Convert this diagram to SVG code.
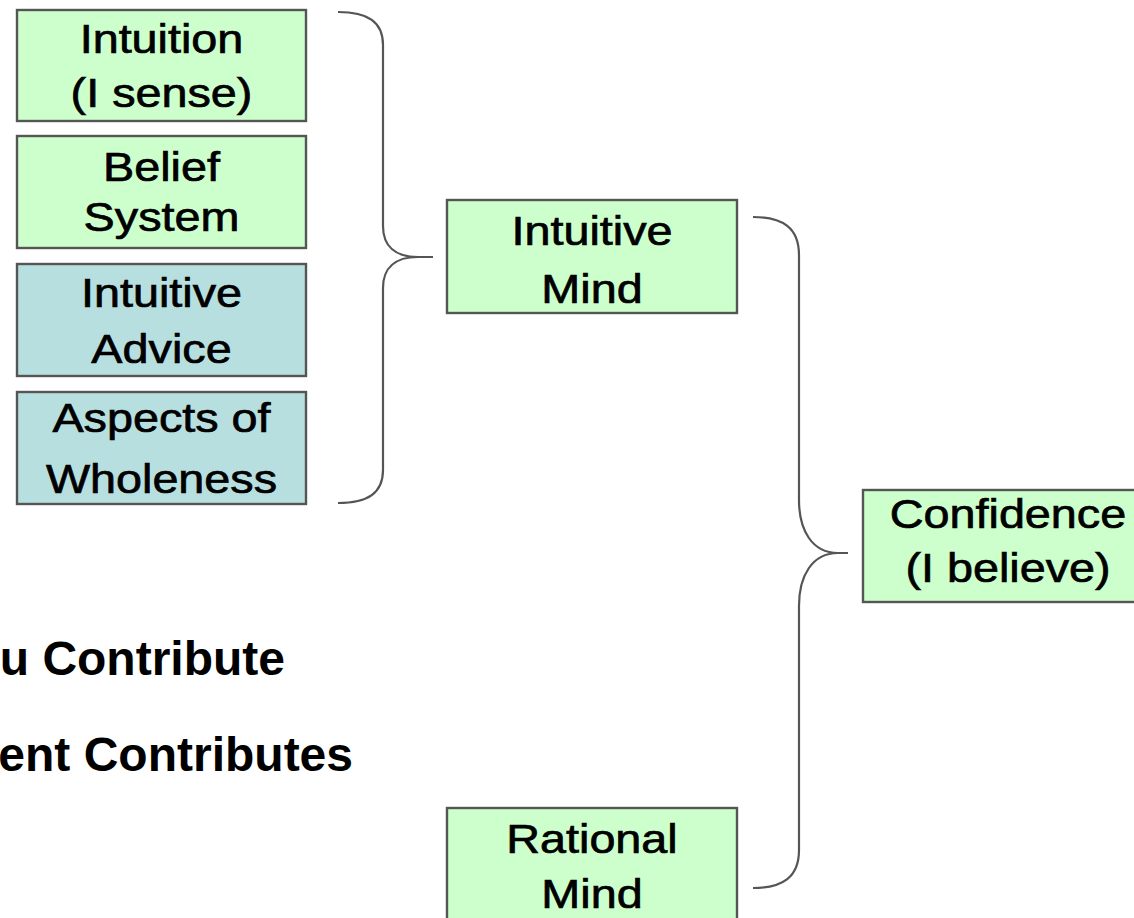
<svg xmlns="http://www.w3.org/2000/svg" width="1134" height="918" viewBox="0 0 1134 918">
<style>
.box{stroke:#555;stroke-width:2.4}
.g{fill:#ccffcc}
.b{fill:#b8dfe0}
.t{font-family:"Liberation Sans",Arial,sans-serif;font-size:41px;fill:#000;stroke:#000;stroke-width:0.7;text-anchor:middle}
.h{font-family:"Liberation Sans",Arial,sans-serif;font-size:48px;font-weight:bold;fill:#000;text-anchor:end}
.br{fill:none;stroke:#555;stroke-width:2.2}
</style>
<rect width="1134" height="918" fill="#fff"/>
<g id="connectors">
<path class="br" d="M338,12 C368,12 383,22 383,45 L383,226 C383,246 395,257 418,257 L433,257 M418,257 C395,257 383,268 383,288 L383,470 C383,493 368,503 338,503"/>
<path class="br" d="M753,217 C783,217 799,228 799,255 L799,500 C799,530 812,553 838,553 L848,553 M838,553 C812,553 799,576 799,606 L799,850 C799,877 783,888 753,888"/>
</g>
<g id="intuition">
<rect class="box g" x="17" y="10" width="289" height="111"/>
<text class="t" transform="translate(161.5,0) scale(1.14,1)" x="0" y="53">Intuition</text>
<text class="t" transform="translate(161.5,0) scale(1.14,1)" x="0" y="107">(I sense)</text>
</g>
<g id="belief">
<rect class="box g" x="17" y="136" width="289" height="112"/>
<text class="t" transform="translate(161.5,0) scale(1.14,1)" x="0" y="181">Belief</text>
<text class="t" transform="translate(161.5,0) scale(1.14,1)" x="0" y="231">System</text>
</g>
<g id="advice">
<rect class="box b" x="17" y="264" width="289" height="112"/>
<text class="t" transform="translate(161.5,0) scale(1.14,1)" x="0" y="307">Intuitive</text>
<text class="t" transform="translate(161.5,0) scale(1.14,1)" x="0" y="363">Advice</text>
</g>
<g id="wholeness">
<rect class="box b" x="17" y="392" width="289" height="112"/>
<text class="t" transform="translate(161.5,0) scale(1.14,1)" x="0" y="432">Aspects of</text>
<text class="t" transform="translate(161.5,0) scale(1.14,1)" x="0" y="493">Wholeness</text>
</g>
<g id="intuitive-mind">
<rect class="box g" x="447" y="200" width="290" height="113"/>
<text class="t" transform="translate(592,0) scale(1.14,1)" x="0" y="245">Intuitive</text>
<text class="t" transform="translate(592,0) scale(1.14,1)" x="0" y="303">Mind</text>
</g>
<g id="confidence">
<rect class="box g" x="863" y="490" width="290" height="112"/>
<text class="t" transform="translate(1008,0) scale(1.14,1)" x="0" y="528">Confidence</text>
<text class="t" transform="translate(1008,0) scale(1.14,1)" x="0" y="582">(I believe)</text>
</g>
<g id="rational-mind">
<rect class="box g" x="447" y="808" width="290" height="130"/>
<text class="t" transform="translate(592,0) scale(1.14,1)" x="0" y="853">Rational</text>
<text class="t" transform="translate(592,0) scale(1.14,1)" x="0" y="908">Mind</text>
</g>
<g id="labels">
<text class="h" x="285" y="675">u Contribute</text>
<text class="h" x="353" y="771">ent Contributes</text>
</g>
</svg>
